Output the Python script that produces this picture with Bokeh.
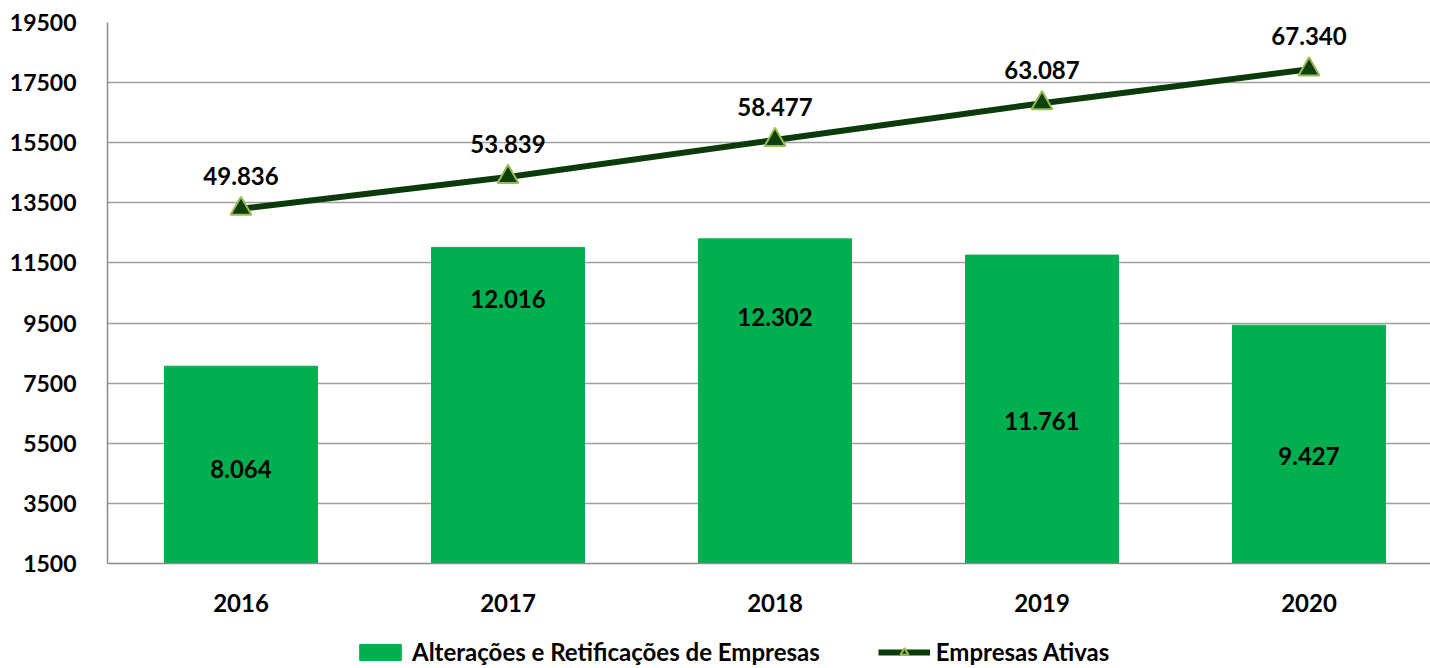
from bokeh.plotting import figure
from bokeh.layouts import column
from bokeh.models import (Range1d, FixedTicker, ColumnDataSource, Legend, LegendItem,
                          LabelSet)
from bokeh.core.properties import value
from bokeh.embed import file_html
from bokeh.resources import INLINE

# ---- data ----
years = ["2016", "2017", "2018", "2019", "2020"]
alteracoes = [8064, 12016, 12302, 11761, 9427]
ativas = [49836, 53839, 58477, 63087, 67340]
y_ticks = [1500, 3500, 5500, 7500, 9500, 11500, 13500, 15500, 17500, 19500]
series_names = ["Alterações e Retificações de Empresas", "Empresas Ativas"]
# where each bar's value label sits (primary-axis units, as placed in the original)
bar_label_y = [4650, 10290, 9690, 6240, 5080]


def fmt(v):
    return f"{v:,}".replace(",", ".")


FONT = "Lato"
BAR_COLOR = "#00B050"
LINE_COLOR = "#0B3A0B"
MARK_FILL = "#0F400F"
MARK_LINE = "#9BBB59"
idx = list(range(len(years)))

src = ColumnDataSource(dict(
    x=idx,
    alt=alteracoes,
    atv=ativas,
    alt_lbl=[fmt(v) for v in alteracoes],
    atv_lbl=[fmt(v) for v in ativas],
    lbl_y=bar_label_y,
))

W = 1430
p = figure(width=W, height=636, output_backend="svg", toolbar_location=None,
           x_range=Range1d(-0.5, 4.455), y_range=Range1d(1500, 19500),
           min_border_left=107, min_border_right=0, min_border_top=22,
           min_border_bottom=73)
p.extra_y_ranges = {"ativas": Range1d(5325, 73216)}
p.outline_line_color = None
p.background_fill_color = "white"
p.border_fill_color = "white"

p.vbar(x="x", top="alt", bottom=0, width=0.573, source=src,
       fill_color=BAR_COLOR, line_color=BAR_COLOR)
p.line(x="x", y="atv", source=src, y_range_name="ativas",
       line_color=LINE_COLOR, line_width=6)
p.scatter(x="x", y="atv", source=src, y_range_name="ativas",
          marker="triangle", size=21, fill_color=MARK_FILL,
          line_color=MARK_LINE, line_width=2)

p.add_layout(LabelSet(x="x", y="lbl_y", text="alt_lbl", source=src,
                      text_align="center", text_baseline="middle",
                      text_font=value(FONT), text_font_style="bold",
                      text_font_size="24px", text_color="black"))
p.add_layout(LabelSet(x="x", y="atv", text="atv_lbl", source=src,
                      y_range_name="ativas", y_offset=33,
                      text_align="center", text_baseline="middle",
                      text_font=value(FONT), text_font_style="bold",
                      text_font_size="24px", text_color="black"))

# axes
p.yaxis.ticker = FixedTicker(ticks=y_ticks)
p.yaxis.major_label_text_font = FONT
p.yaxis.major_label_text_font_style = "bold"
p.yaxis.major_label_text_font_size = "23px"
p.yaxis.major_label_text_color = "black"
p.yaxis.major_label_standoff = 25
p.yaxis.major_tick_line_color = None
p.yaxis.minor_tick_line_color = None
p.yaxis.axis_line_color = "#8C8C8C"
p.yaxis.axis_line_width = 1.5

p.xaxis.ticker = FixedTicker(ticks=idx)
p.xaxis.major_label_overrides = {i: y for i, y in zip(idx, years)}
p.xaxis.major_label_text_font = FONT
p.xaxis.major_label_text_font_style = "bold"
p.xaxis.major_label_text_font_size = "24px"
p.xaxis.major_label_text_color = "black"
p.xaxis.major_label_standoff = 24
p.xaxis.major_tick_line_color = None
p.xaxis.minor_tick_line_color = None
p.xaxis.axis_line_color = "#8C8C8C"
p.xaxis.axis_line_width = 1.5

p.xgrid.grid_line_color = None
p.ygrid.grid_line_color = "#A0A0A0"
p.ygrid.grid_line_width = 1.5

# ---- legend strip (its renderers hold one point outside the visible range) ----
lg = figure(width=W, height=32, output_backend="svg", toolbar_location=None,
            x_range=Range1d(0, 1), y_range=Range1d(0, 1), min_border=0)
lg.axis.visible = False
lg.grid.visible = False
lg.outline_line_color = None
lg_bar = lg.vbar(x=[5], top=[5], bottom=[4], width=0.1,
                 fill_color=BAR_COLOR, line_color=BAR_COLOR)
lg_line = lg.line(x=[5, 6], y=[5, 5], line_color=LINE_COLOR, line_width=6)
lg_mark = lg.scatter(x=[5], y=[5], marker="triangle", size=18, fill_color=MARK_FILL,
                     line_color=MARK_LINE, line_width=2)

legend = Legend(items=[
    LegendItem(label=series_names[0], renderers=[lg_bar]),
    LegendItem(label=series_names[1], renderers=[lg_line, lg_mark]),
], orientation="horizontal", location=(247, 2),
    label_text_font=FONT, label_text_font_style="bold",
    label_text_font_size="24px", label_text_color="black",
    glyph_width=52, glyph_height=20, label_standoff=6, spacing=58,
    border_line_color=None, background_fill_alpha=0, padding=0, margin=0)
lg.add_layout(legend)

open("out.html", "w").write(file_html(column(p, lg), INLINE))
